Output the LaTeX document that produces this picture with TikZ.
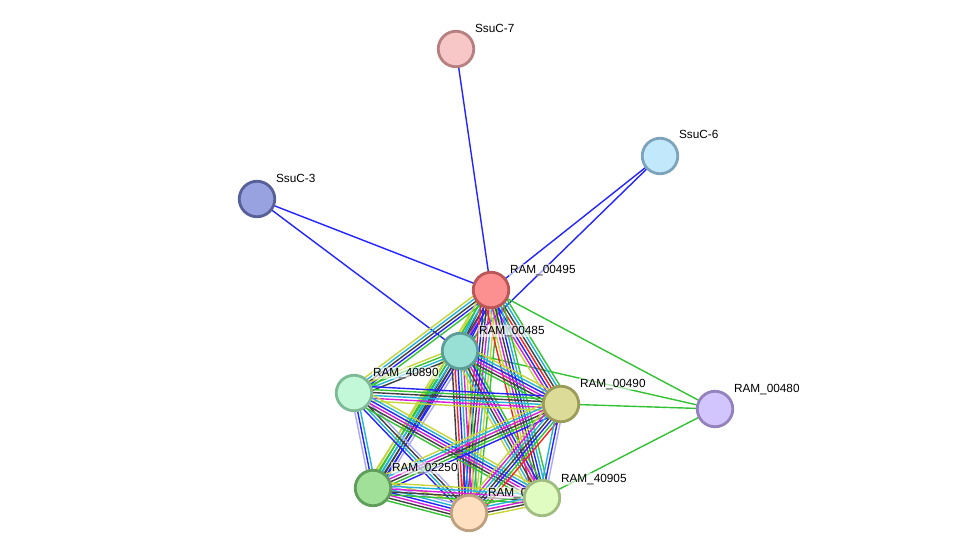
\documentclass[tikz,border=0pt]{standalone}
\usepackage{fontspec}
\setmainfont{Liberation Sans}
\usetikzlibrary{calc}
\pgfdeclarelayer{bg}
\pgfdeclarelayer{edges}
\pgfsetlayers{bg,edges,main}
\definecolor{nb}{HTML}{33C233}
\definecolor{fu}{HTML}{FF1F1F}
\definecolor{co}{HTML}{2424FF}
\definecolor{cx}{HTML}{404040}
\definecolor{ex}{HTML}{D81ED8}
\definecolor{db}{HTML}{22B4D8}
\definecolor{tm}{HTML}{C4D638}
\definecolor{hm}{HTML}{A8A8FF}
\tikzset{
  x=1pt,y=-1pt,
  prot/.style={circle, minimum size=35.5pt, inner sep=0pt, line width=2.8pt},
  lab/.style={anchor=base west, font=\fontsize{11.8}{13}\selectfont, fill=white, fill opacity=0.6, text opacity=1, inner sep=0.8pt},
  ln/.style={line width=1.4pt}
}
\newcommand\bundle[3]{%
  \foreach \cc [count=\ii] in {#3} {\xdef\nnb{\ii}}%
  \foreach \cc [count=\ii] in {#3} {%
    \pgfmathsetmacro\oo{(\ii-(\nnb+1)/2)*2.9}%
    \draw[ln,\cc] ($(#1.center)!\oo pt!90:(#2.center)$) -- ($(#2.center)!\oo pt!-90:(#1.center)$);
  }}
\begin{document}
\begin{tikzpicture}
\useasboundingbox (0,0) rectangle (976,559);
\begin{pgfonlayer}{bg}
\fill[white] (0,0) rectangle (976,559);
\end{pgfonlayer}
% labels
\node[lab] (l7) at (474,33) {SsuC-7};
\node[lab] (l6) at (678,139) {SsuC-6};
\node[lab] (l3) at (275,182) {SsuC-3};
\node[lab] (lA) at (509,273) {RAM\_00495};
\node[lab] (lB) at (478,334) {RAM\_00485};
\node[lab] (lC) at (372,376) {RAM\_40890};
\node[lab] (lD) at (579,387) {RAM\_00490};
\node[lab] (lH) at (733,392) {RAM\_00480};
\node[lab] (lE) at (391,471) {RAM\_02250};
\node[lab] (lF) at (487,496) {RAM\_0};
\node[lab] (lG) at (560,482) {RAM\_40905};
% proteins
\node[prot, fill={rgb,255:red,247;green,198;blue,198}, draw={rgb,255:red,182;green,128;blue,128}] (s7) at (456,49) {};
\node[prot, fill={rgb,255:red,194;green,232;blue,251}, draw={rgb,255:red,126;green,164;blue,188}] (s6) at (660,156) {};
\node[prot, fill={rgb,255:red,152;green,162;blue,224}, draw={rgb,255:red,88;green,96;blue,152}] (s3) at (257,199) {};
\node[prot, fill={rgb,255:red,252;green,144;blue,144}, draw={rgb,255:red,186;green,86;blue,86}] (A) at (491,290) {};
\node[prot, fill={rgb,255:red,152;green,224;blue,214}, draw={rgb,255:red,92;green,158;blue,150}] (B) at (460,351) {};
\node[prot, fill={rgb,255:red,194;green,248;blue,216}, draw={rgb,255:red,126;green,186;blue,150}] (C) at (354,393) {};
\node[prot, fill={rgb,255:red,220;green,220;blue,152}, draw={rgb,255:red,156;green,156;blue,90}] (D) at (561,404) {};
\node[prot, fill={rgb,255:red,210;green,196;blue,252}, draw={rgb,255:red,148;green,130;blue,188}] (H) at (715,409) {};
\node[prot, fill={rgb,255:red,160;green,224;blue,152}, draw={rgb,255:red,96;green,156;blue,90}] (E) at (373,488) {};
\node[prot, fill={rgb,255:red,254;green,223;blue,192}, draw={rgb,255:red,188;green,160;blue,128}] (F) at (469,513) {};
\node[prot, fill={rgb,255:red,224;green,252;blue,192}, draw={rgb,255:red,160;green,188;blue,128}] (G) at (542,498) {};
% edges
\begin{pgfonlayer}{edges}
\draw[ln,co] (s7.center) -- (A.center);
\draw[ln,co] (s6.center) -- (A.center);
\draw[ln,co] (s6.center) -- (B.center);
\draw[ln,co] (s3.center) -- (A.center);
\draw[ln,co] (s3.center) -- (B.center);
\draw[ln,nb] (A.center) -- (H.center);
\draw[ln,nb] (B.center) -- (H.center);
\draw[ln,nb] (D.center) -- (H.center);
\draw[ln,nb] (G.center) -- (H.center);
\bundle{A}{B}{tm,db,cx,ex,co,nb}
\bundle{A}{C}{tm,db,cx,co,nb}
\bundle{A}{D}{tm,ex,co,fu,cx,db,nb}
\bundle{A}{E}{tm,nb,db,cx,co}
\bundle{A}{F}{fu,co,cx,ex,db,tm,nb}
\bundle{A}{G}{fu,tm,ex,cx,co,db,nb}
\bundle{B}{C}{tm,nb,db,cx}
\bundle{B}{D}{nb,cx,ex,co,db,tm}
\bundle{B}{E}{tm,nb,db,cx,co,hm}
\bundle{B}{F}{cx,fu,co,db,ex,tm,nb}
\bundle{B}{G}{tm,db,cx,ex,co,nb}
\bundle{C}{D}{tm,ex,db,cx,nb,co}
\bundle{C}{E}{hm,co,db}
\bundle{C}{F}{co,db,cx,hm}
\bundle{C}{G}{nb,cx,ex,co,db,tm}
\bundle{D}{E}{tm,db,ex,cx,nb,co}
\bundle{D}{F}{tm,ex,db,cx,co,nb,fu}
\bundle{D}{G}{db,co,hm}
\bundle{E}{F}{nb,cx,ex,co,db,hm,tm}
\bundle{E}{G}{nb,cx,ex,db,tm}
\bundle{F}{G}{tm,cx,ex,db,nb}
\end{pgfonlayer}
\end{tikzpicture}
\end{document}
